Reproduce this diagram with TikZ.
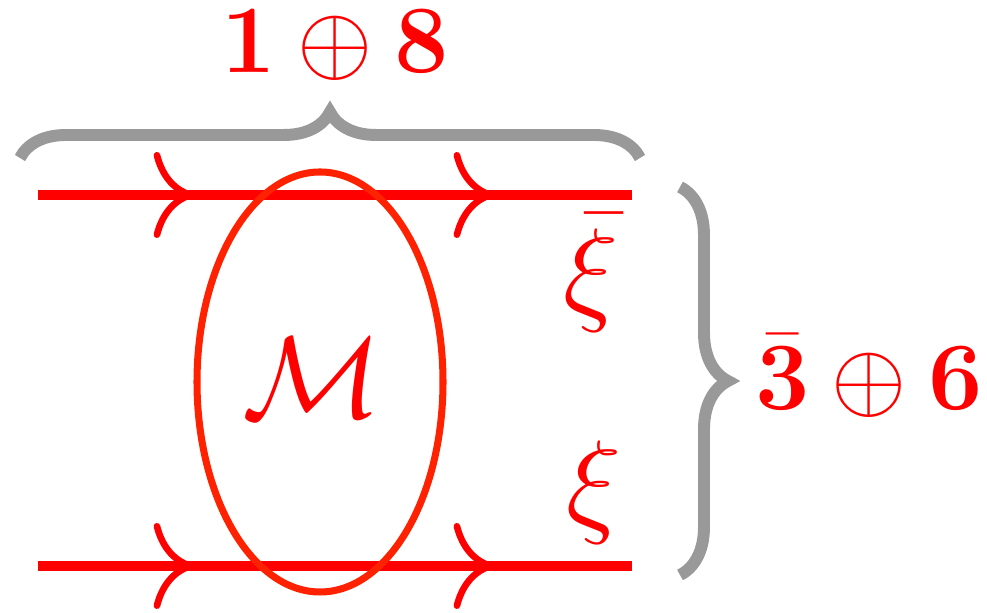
\RequirePackage{fix-cm}
\documentclass[tikz,border=0pt]{standalone}
\usepackage{amsmath}
\usetikzlibrary{arrows.meta,decorations.markings,decorations.pathreplacing}
\definecolor{linered}{RGB}{255,0,0}
\definecolor{blobred}{RGB}{255,34,0}
\definecolor{bracegray}{RGB}{153,153,153}
\tikzset{
  quark/.style={linered,line width=3pt,postaction={decorate},
    decoration={markings,
      mark=at position 0.262 with {\arrow{Computer Modern Rightarrow[length=4mm,width=8.6mm,line width=1.9pt]}},
      mark=at position 0.767 with {\arrow{Computer Modern Rightarrow[length=4mm,width=8.6mm,line width=1.9pt]}}}},
  blob/.style={blobred,line width=2pt},
  gbrace/.style={bracegray,line width=3.4pt,decorate,decoration={brace,amplitude=#1}},
  rep/.style={linered,inner sep=0pt,font=\fontsize{27.5}{32}\selectfont},
}
\begin{document}
\begin{tikzpicture}
\useasboundingbox (0,0) rectangle (9.87,6.13);
\coordinate (inT) at (0.38,4.18);
\coordinate (outT) at (6.32,4.18);
\coordinate (inB) at (0.38,0.47);
\coordinate (outB) at (6.32,0.47);
\draw[quark] (inT) -- (outT);
\draw[quark] (inB) -- (outB);
\draw[blob] (3.20,2.31) ellipse [x radius=1.23,y radius=2.10];
\node[linered,font=\fontsize{33}{40}\selectfont] (amp) at (3.12,2.35) {$\mathcal{M}$};
\node[linered,font=\fontsize{33}{40}\selectfont] (xibar) at (5.91,3.40) {$\bar{\xi}$};
\node[linered,font=\fontsize{33}{40}\selectfont] (xi) at (5.94,1.20) {$\xi$};
\coordinate (bl) at (0.20,4.55);
\coordinate (br) at (6.40,4.55);
\draw[gbrace=0.46cm] (bl) -- (br);
\coordinate (rt) at (6.80,4.26);
\coordinate (rb) at (6.80,0.38);
\draw[gbrace=0.48cm] (rt) -- (rb);
\node[rep] (octet) at (3.35,5.68) {$\mathbf{1}\oplus\mathbf{8}$};
\node[rep,anchor=west] (sextet) at (7.55,2.37) {$\bar{\mathbf{3}}\oplus\mathbf{6}$};
\end{tikzpicture}
\end{document}
